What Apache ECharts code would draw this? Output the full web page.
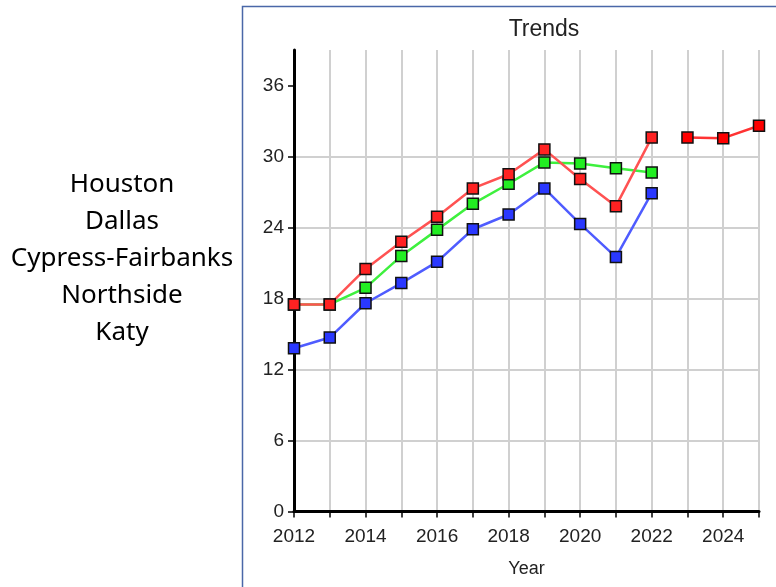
<!DOCTYPE html>
<html>
<head>
<meta charset="utf-8">
<script src="https://cdn.jsdelivr.net/npm/echarts@6/dist/echarts.min.js"></script>
<style>html,body{margin:0;padding:0;background:#fff;}#c{width:776px;height:587px;}</style>
</head>
<body>
<div id="c"></div>
<script>
const years = ['2012','2013','2014','2015','2016','2017','2018','2019','2020','2021','2022','2023','2024','2025'];
const yearLabels = ['2012','','2014','','2016','','2018','','2020','','2022','','2024',''];
const legendNames = ['Houston','Dallas','Cypress-Fairbanks','Northside','Katy'];
const redValues   = [17.5,17.5,20.5,22.8,24.9,27.3,28.5,30.6,28.1,25.8,31.6,null,null,null];
const redLater    = [null,null,null,null,null,null,null,null,null,null,null,31.6,31.55,32.6];
const greenValues = [17.5,17.5,18.9,21.6,23.8,26.0,27.7,29.5,29.4,29.0,28.65,null,null,null];
const blueValues  = [13.8,14.7,17.6,19.3,21.1,23.85,25.1,27.3,24.3,21.5,26.9,null,null,null];
const yTicks = [0,6,12,18,24,30,36];

const chart = echarts.init(document.getElementById('c'), null, {renderer:'canvas'});
function mk(name, data, lineColor, fill){
  return {
    name, type:'line', data, connectNulls:false, symbol:'rect', symbolSize:11,
    lineStyle:{color:lineColor, width:2.5},
    itemStyle:{color:fill, borderColor:'#111', borderWidth:1.5},
    emphasis:{disabled:true}, animation:false, z:3
  };
}
const axisFont = 'Liberation Sans, Arial';
chart.setOption({
  animation:false,
  backgroundColor:'#fff',
  title:{text:'Trends', left:539, top:13, textAlign:'center',
    textStyle:{fontFamily:axisFont, fontSize:23, fontWeight:'normal', color:'#222'}},
  graphic:[
    {type:'rect', shape:{x:242.5, y:6.5, width:700, height:700}, style:{fill:null, stroke:'#4a67a8', lineWidth:1.5}, z:0},
    {type:'text', x:122, y:166.5, style:{text:legendNames.join('\n'), textAlign:'center', fontFamily:'Noto Sans', fontSize:26, lineHeight:36.8, fill:'#000'}}
  ],
  grid:{left:294, top:50, right:17, bottom:75.5, containLabel:false},
  xAxis:{
    type:'category', data:years, boundaryGap:false,
    name:'Year', nameLocation:'middle', nameGap:49,
    nameTextStyle:{fontFamily:axisFont, fontSize:18, color:'#222'},
    axisLine:{lineStyle:{color:'#000', width:3}},
    axisTick:{show:true, interval:0, length:6, lineStyle:{color:'#000', width:1.5}},
    axisLabel:{interval:0, fontFamily:axisFont, fontSize:19, color:'#222', margin:16,
      formatter:(v, i) => yearLabels[i]},
    splitLine:{show:true, interval:0, lineStyle:{color:'#d0d0d0', width:2}}
  },
  yAxis:{
    type:'value', min:0, max:39, interval:6,
    axisLine:{show:true, lineStyle:{color:'#000', width:3}},
    axisTick:{show:true, length:6, lineStyle:{color:'#000', width:1.5}, customValues:yTicks},
    axisLabel:{fontFamily:axisFont, fontSize:19, color:'#222', margin:10, customValues:yTicks},
    splitLine:{show:true, showMaxLine:false, lineStyle:{color:'#d0d0d0', width:2}}
  },
  series:[
    mk('Blue', blueValues, '#4f5cff', '#2a38ff'),
    mk('Green', greenValues, '#3ef03e', '#22ee22'),
    mk('Red', redValues, '#ff5252', '#ff2222'),
    mk('Red (2023–2025)', redLater, '#ff3333', '#ff0000')
  ]
});
</script>
</body>
</html>
